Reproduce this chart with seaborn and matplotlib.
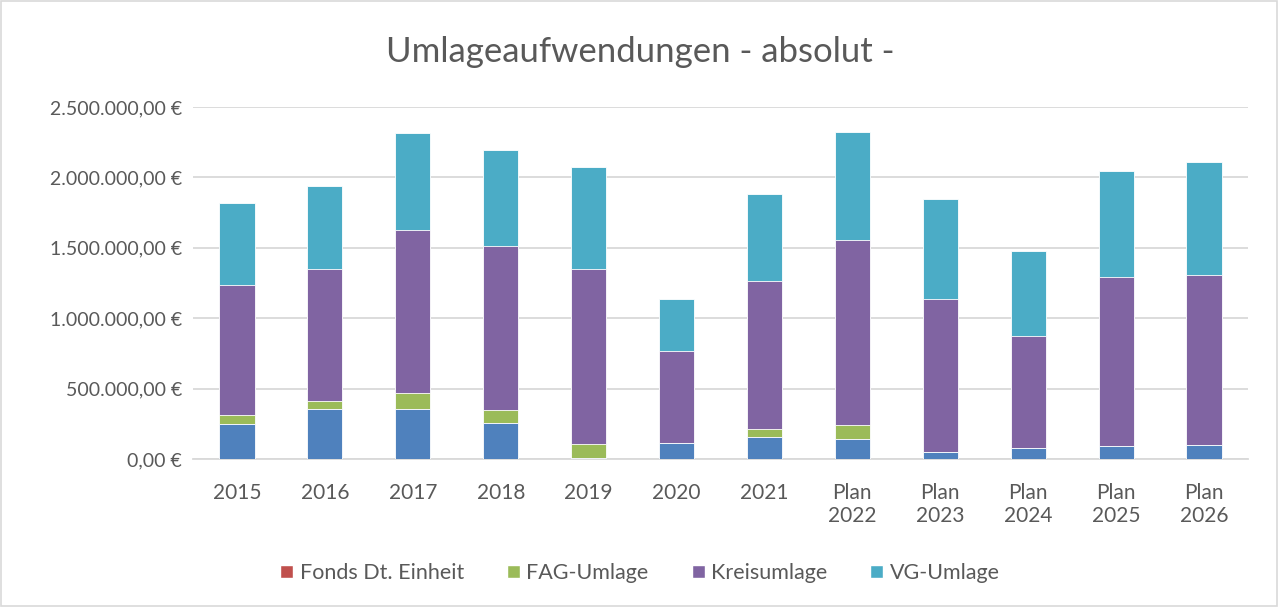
import numpy as np
import pandas as pd
import matplotlib.pyplot as plt
import matplotlib.ticker as mticker
from matplotlib.patches import Patch, Rectangle
import seaborn as sns

# data (values in EUR)
years = ['2015', '2016', '2017', '2018', '2019', '2020', '2021',
         'Plan\n2022', 'Plan\n2023', 'Plan\n2024', 'Plan\n2025', 'Plan\n2026']
gewst = [250000, 355000, 355000, 256000, 5000, 116000, 158000, 144000, 48000, 76000, 92000, 99000]
fonds = [0, 0, 0, 0, 0, 0, 0, 0, 0, 0, 0, 0]
fag = [65000, 59000, 114000, 92000, 102000, 0, 53000, 97000, 0, 0, 0, 0]
kreis = [919000, 933000, 1159000, 1165000, 1240000, 651000, 1055000, 1312000, 1088000, 798000, 1198000, 1206000]
vg = [584000, 592000, 685000, 682000, 729000, 369000, 614000, 772000, 711000, 603000, 755000, 802000]

series = ['_gewst', 'Fonds Dt. Einheit', 'FAG-Umlage', 'Kreisumlage', 'VG-Umlage']
colors = ['#4F81BD', '#C0504D', '#9BBB59', '#8064A2', '#4BACC6']

df = pd.DataFrame({'Jahr': years, '_gewst': gewst, 'Fonds Dt. Einheit': fonds,
                   'FAG-Umlage': fag, 'Kreisumlage': kreis, 'VG-Umlage': vg})
cum = df[series].cumsum(axis=1)

sns.set_style('white')
plt.rcParams['font.family'] = ['Lato', 'DejaVu Sans']

fig = plt.figure(figsize=(12.8, 6.07), dpi=100)
ax = fig.add_axes([193 / 1280, 1 - 459 / 607, (1248 - 193) / 1280, (459 - 107) / 607])

# stacked bars: draw cumulative totals from top layer down
for s, c in zip(reversed(series), reversed(colors)):
    sns.barplot(x=df['Jahr'], y=cum[s], color=c, width=0.4, ax=ax,
                edgecolor='white', linewidth=0.6, saturation=1, zorder=3)

ax.set_ylim(0, 2500000)
ax.set_xlim(-0.5, len(years) - 0.5)
ax.yaxis.set_major_locator(mticker.MultipleLocator(500000))
ax.yaxis.set_major_formatter(mticker.FuncFormatter(
    lambda v, p: '{:,.2f} €'.format(v).replace(',', 'X').replace('.', ',').replace('X', '.')))
ax.grid(axis='y', color='#D9D9D9', linewidth=1.3, zorder=0)
ax.set_axisbelow(True)
for sp in ['top', 'right', 'left']:
    ax.spines[sp].set_visible(False)
ax.spines['bottom'].set_color('#D9D9D9')
ax.spines['bottom'].set_linewidth(1.3)
ax.tick_params(axis='both', length=0, colors='#595959')
ax.tick_params(axis='y', labelsize=14, pad=8)
ax.tick_params(axis='x', labelsize=15, pad=17)
ax.set_xlabel('')
ax.set_ylabel('')

fig.text(0.5, 1 - 52 / 607, 'Umlageaufwendungen - absolut -', ha='center', va='center',
         fontsize=25, color='#595959')

handles = [Patch(facecolor=c, label=s) for s, c in zip(series[1:], colors[1:])]
fig.legend(handles=handles, loc='center', bbox_to_anchor=(0.5, 1 - 573 / 607), ncol=4,
           frameon=False, fontsize=15.5, handlelength=0.6, handleheight=0.6,
           handletextpad=0.3, columnspacing=2.0, labelcolor='#595959')

fig.patches.append(Rectangle((0.001, 0.002), 0.997, 0.996, transform=fig.transFigure,
                             fill=False, edgecolor='#D9D9D9', linewidth=1.2))

fig.savefig('out.png', dpi=100)
